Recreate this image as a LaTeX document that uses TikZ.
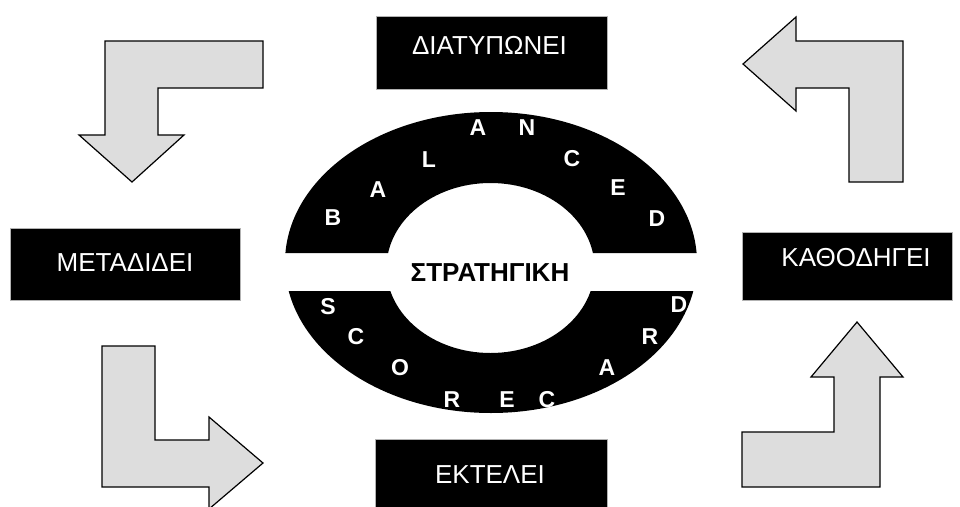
\documentclass[tikz,border=0pt]{standalone}
\usepackage{fontspec}
\setmainfont{Liberation Sans}
\definecolor{arrowgray}{HTML}{DDDDDD}
\tikzset{
  labelbox/.style={fill=black, draw=gray!60, line width=0.6pt},
  boxtext/.style={text=white, font=\fontsize{26}{30}\selectfont, inner sep=0pt},
  ringletter/.style={text=white, font=\bfseries\fontsize{23}{27}\selectfont, inner sep=0pt},
  centertext/.style={text=black, font=\bfseries\fontsize{26}{30}\selectfont, inner sep=0pt},
  bentarrow/.style={fill=arrowgray, draw=black, line width=1.2pt, line join=miter},
}
\begin{document}
\begin{tikzpicture}[x=1pt,y=-1pt]
\useasboundingbox (0,0) rectangle (960,506);
\clip (0,0) rectangle (960,506);
% ring
\begin{scope}
  \clip (270,100) rectangle (710,253) (270,291) rectangle (710,420);
  \fill[black, even odd rule] (491,262.5) ellipse [x radius=206pt, y radius=150.5pt]
                              (490.5,268) ellipse [x radius=104pt, y radius=85pt];
\end{scope}
% ring letters
\node[ringletter] (b1) at (333,218) {B};
\node[ringletter] (b2) at (378,190) {A};
\node[ringletter] (b3) at (429,160) {L};
\node[ringletter] (b4) at (478,128) {A};
\node[ringletter] (b5) at (527,128) {N};
\node[ringletter] (b6) at (572,159) {C};
\node[ringletter] (b7) at (618,188) {E};
\node[ringletter] (b8) at (657,219) {D};
\node[ringletter] (s1) at (328,307) {S};
\node[ringletter] (s2) at (356,337) {C};
\node[ringletter] (s3) at (400,368) {O};
\node[ringletter] (s4) at (452,400) {R};
\node[ringletter] (s5) at (507,400) {E};
\node[ringletter] (s6) at (547,400) {C};
\node[ringletter] (s7) at (607,368) {A};
\node[ringletter] (s8) at (650,337) {R};
\node[ringletter] (s9) at (679,305) {D};
\node[centertext] (strat) at (490,273) {ΣΤΡΑΤΗΓΙΚΗ};
% boxes
\fill[labelbox] (376,16) rectangle (607,89);
\node[boxtext] (diat) at (489.5,45.5) {ΔΙΑΤΥΠΩΝΕΙ};
\fill[labelbox] (10,228) rectangle (240,300);
\node[boxtext] (meta) at (125,263) {ΜΕΤΑΔΙΔΕΙ};
\fill[labelbox] (742,232) rectangle (952,300);
\node[boxtext] (kath) at (856,258) {ΚΑΘΟΔΗΓΕΙ};
\fill[labelbox] (375,439) rectangle (607,512);
\node[boxtext] (ekte) at (490,475) {ΕΚΤΕΛΕΙ};
% bent arrows
\draw[bentarrow] (105,41) -- (263,41) -- (263,88) -- (158,88) -- (158,135) -- (184,135) -- (132,182) -- (79,135) -- (105,135) -- cycle;
\draw[bentarrow] (743,64) -- (796,17) -- (796,41) -- (903,41) -- (903,182) -- (849,182) -- (849,88) -- (796,88) -- (796,111) -- cycle;
\draw[bentarrow] (102,346) -- (155,346) -- (155,440) -- (209,440) -- (209,417) -- (263,463) -- (209,509) -- (209,487) -- (102,487) -- cycle;
\draw[bentarrow] (857,322) -- (903,377) -- (880,377) -- (880,487) -- (742,487) -- (742,432) -- (834,432) -- (834,377) -- (811,377) -- cycle;
\end{tikzpicture}
\end{document}
